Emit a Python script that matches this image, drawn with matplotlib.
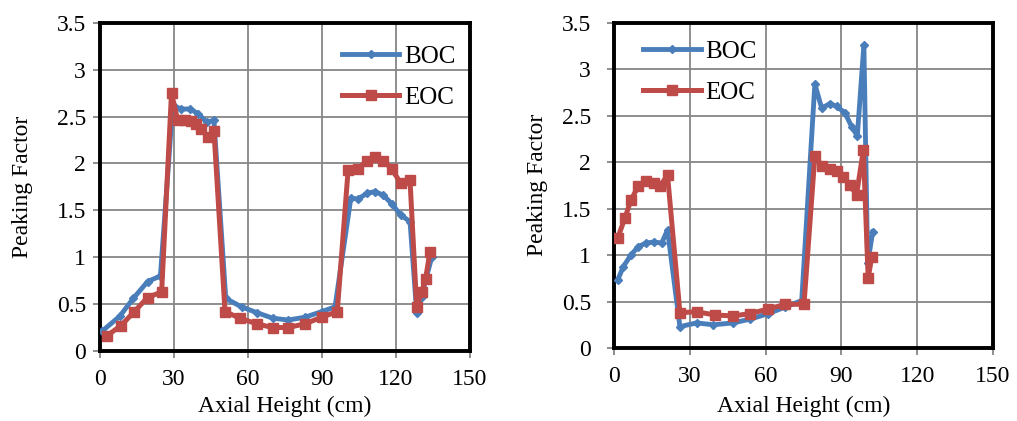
import matplotlib
matplotlib.use("Agg")
import matplotlib.pyplot as plt
from matplotlib.ticker import FormatStrFormatter, MultipleLocator

# left panel
boc_x_l = [0.8, 8.0, 13.5, 19.3, 24.5, 29.5, 32.8, 36.5, 39.9, 43.2, 46.2, 51.0, 57.4, 63.5,
           70.0, 76.3, 83.1, 89.9, 95.3, 101.7, 104.7, 108.1, 111.5, 114.9, 118.3, 121.9,
           125.7, 128.4, 130.4, 132.4, 134.5]
boc_y_l = [0.21, 0.37, 0.56, 0.74, 0.80, 2.62, 2.58, 2.58, 2.53, 2.44, 2.46, 0.56, 0.47, 0.41,
           0.35, 0.33, 0.36, 0.42, 0.47, 1.63, 1.62, 1.68, 1.70, 1.66, 1.57, 1.45,
           1.38, 0.41, 0.58, 0.79, 1.0]
eoc_x_l = [2.7, 8.5, 13.9, 19.3, 25.0, 29.0, 31.5, 34.5, 37.0, 39.0, 41.0, 43.6, 46.2, 50.7,
           56.7, 63.5, 70.0, 76.3, 83.1, 89.9, 96.2, 100.6, 104.7, 108.1, 111.5, 114.9,
           118.3, 121.9, 125.7, 128.4, 130.4, 132.0, 133.8]
eoc_y_l = [0.16, 0.27, 0.42, 0.57, 0.63, 2.75, 2.46, 2.46, 2.45, 2.42, 2.37, 2.28, 2.35, 0.42,
           0.35, 0.29, 0.25, 0.25, 0.29, 0.36, 0.42, 1.93, 1.94, 2.03, 2.07, 2.03,
           1.94, 1.79, 1.82, 0.47, 0.63, 0.77, 1.06]

# right panel
boc_x_r = [1.45, 3.7, 6.7, 9.6, 12.7, 15.9, 18.9, 21.2, 26.1, 32.7, 39.3, 47.2, 53.8, 61.1,
           67.7, 74.3, 79.5, 82.2, 85.5, 88.1, 91.4, 94.1, 96.3, 98.9, 100.4, 102.4]
boc_y_r = [0.73, 0.875, 1.0, 1.09, 1.13, 1.14, 1.13, 1.27, 0.23, 0.27, 0.25, 0.27, 0.31, 0.37,
           0.44, 0.51, 2.84, 2.58, 2.63, 2.60, 2.53, 2.38, 2.28, 3.26, 0.91, 1.25]
eoc_x_r = [1.45, 4.35, 6.7, 9.6, 12.7, 15.9, 18.2, 21.2, 26.1, 32.7, 40.0, 47.2, 53.8, 61.1,
           67.7, 75.2, 79.5, 82.2, 85.5, 88.1, 90.7, 93.4, 96.0, 98.7, 100.6, 102.0]
eoc_y_r = [1.18, 1.40, 1.59, 1.74, 1.80, 1.78, 1.74, 1.86, 0.38, 0.39, 0.355, 0.345, 0.37, 0.42,
           0.47, 0.47, 2.07, 1.96, 1.93, 1.90, 1.84, 1.75, 1.65, 2.13, 0.75, 0.98]

blue = "#4a7ebb"
red = "#be4b48"

plt.rcParams["font.family"] = ["Liberation Serif", "DejaVu Serif"]
plt.rcParams["font.size"] = 17

fig = plt.figure(figsize=(10.17, 4.21), dpi=100)
ax1 = fig.add_axes([0.0983, 0.1663, 0.3638, 0.7797])
ax2 = fig.add_axes([0.6037, 0.1734, 0.3727, 0.7727])


def style(ax, legend_anchor, ypad, ylab_x, xlab_y):
    ax.plot(bx, by, color=blue, lw=3.5, marker="D", ms=4, label="BOC", zorder=3)
    ax.plot(ex, ey, color=red, lw=3.6, marker="s", ms=6.5, label="EOC", zorder=4)
    ax.set_xlim(0, 150)
    ax.set_ylim(0, 3.5)
    ax.xaxis.set_major_locator(MultipleLocator(30))
    ax.yaxis.set_major_locator(MultipleLocator(0.5))
    ax.yaxis.set_major_formatter(FormatStrFormatter("%g"))
    ax.grid(True, color="#868686", lw=1.3)
    ax.set_axisbelow(True)
    for s in ax.spines.values():
        s.set_linewidth(2.8)
        s.set_color("black")
    ax.tick_params(direction="out", length=5, width=1.3, color="#868686", labelsize=17)
    ax.tick_params(axis="x", pad=8)
    ax.tick_params(axis="y", pad=ypad)
    ax.set_xlabel("Axial Height (cm)", fontsize=17)
    ax.set_ylabel("Peaking Factor", fontsize=17)
    ax.xaxis.set_label_coords(0.5, xlab_y)
    ax.yaxis.set_label_coords(ylab_x, 0.5)
    ax.legend(loc="upper left", bbox_to_anchor=legend_anchor, frameon=False, fontsize=18,
              borderpad=0, borderaxespad=0, handlelength=2.3, handletextpad=0.2,
              labelspacing=0.72)


bx, by, ex, ey = boc_x_l, boc_y_l, eoc_x_l, eoc_y_l
style(ax1, (0.654, 0.93), 5, -0.181, -0.137)
bx, by, ex, ey = boc_x_r, boc_y_r, eoc_x_r, eoc_y_r
style(ax2, (0.077, 0.945), 11.5, -0.174, -0.148)

fig.savefig("out.png", dpi=100)
